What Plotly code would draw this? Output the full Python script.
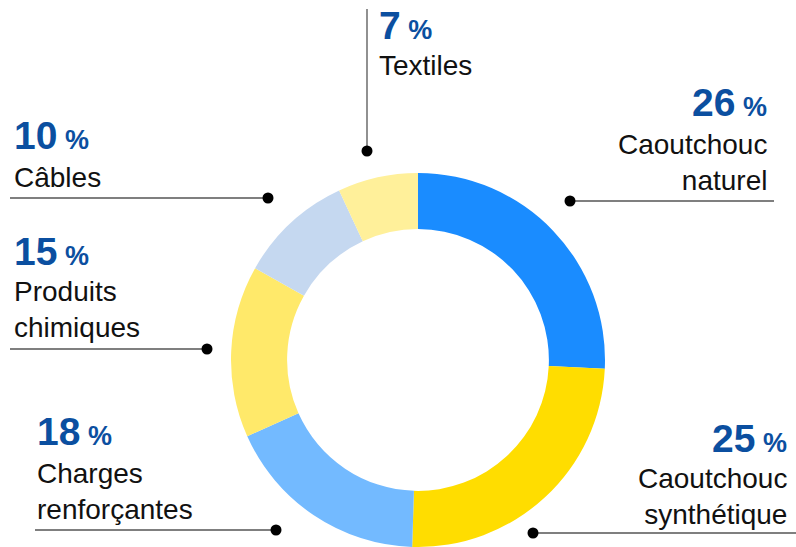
import plotly.graph_objects as go

W, H = 796, 547

labels = ["Caoutchouc<br>naturel", "Caoutchouc<br>synthétique", "Charges<br>renforçantes",
          "Produits<br>chimiques", "Câbles", "Textiles"]
shares = [26, 25, 18, 15, 10, 7]
colors = ["#1A8CFF", "#FFDD00", "#73BAFF", "#FFE96A", "#C5D8F0", "#FFF09A"]

PCT_BLUE = "#0B4FA0"
FONT = "Liberation Sans, Arial, sans-serif"

# label placement in pixels: (pct x, pct y, label y, anchor, leader line x0, x1, y, dot end)
place = [
    (769, 102, 162, "right", 570, 774, 201, "left"),
    (789, 438, 496, "right", 533, 796, 533, "left"),
    (35, 431, 492, "left", 35, 276, 530, "right"),
    (12, 251, 309, "left", 10, 207, 349, "right"),
    (12, 135, 177, "left", 10, 268, 198, "right"),
    (377, 26, 66, "left", None, None, None, None),
]

def px(x):
    return x / W

def py(y):
    return 1 - y / H

fig = go.Figure(go.Pie(
    values=shares, labels=labels, hole=0.70, sort=False, direction="clockwise",
    marker=dict(colors=colors, line=dict(width=0)),
    textinfo="none", hoverinfo="label+percent", showlegend=False,
    domain=dict(x=[px(231), px(605)], y=[0, py(173)]),
))

shapes = []
annotations = []
for lab, val, (xp, yp, yl, anc, x0, x1, yline, dot) in zip(labels, shares, place):
    annotations.append(dict(
        x=px(xp), y=py(yp), xref="paper", yref="paper", xanchor=anc, yanchor="middle",
        text=f"<b>{val}</b><span style='font-size:27px'><b> %</b></span>",
        showarrow=False, font=dict(family=FONT, size=39, color=PCT_BLUE), align=anc,
    ))
    annotations.append(dict(
        x=px(xp), y=py(yl), xref="paper", yref="paper", xanchor=anc, yanchor="middle",
        text=lab, showarrow=False, font=dict(family=FONT, size=28, color="#111111"), align=anc,
    ))
    if x0 is not None:
        shapes.append(dict(type="line", xref="paper", yref="paper", x0=px(x0), x1=px(x1),
                           y0=py(yline), y1=py(yline), line=dict(color="#555555", width=1.3)))
        dx = x0 if dot == "left" else x1
        shapes.append(dict(type="circle", xref="paper", yref="paper",
                           x0=px(dx - 5.5), x1=px(dx + 5.5), y0=py(yline - 5.5), y1=py(yline + 5.5),
                           fillcolor="black", line=dict(width=0)))

# vertical leader for Textiles
shapes.append(dict(type="line", xref="paper", yref="paper", x0=px(367), x1=px(367),
                   y0=py(9), y1=py(151), line=dict(color="#555555", width=1.3)))
shapes.append(dict(type="circle", xref="paper", yref="paper",
                   x0=px(361.5), x1=px(372.5), y0=py(145.5), y1=py(156.5),
                   fillcolor="black", line=dict(width=0)))

fig.update_layout(
    width=W, height=H, margin=dict(l=0, r=0, t=0, b=0),
    paper_bgcolor="white", plot_bgcolor="white",
    shapes=shapes, annotations=annotations,
)

fig.write_html("out.html", config={"displayModeBar": False},
               post_script="document.body.style.margin='0';")
